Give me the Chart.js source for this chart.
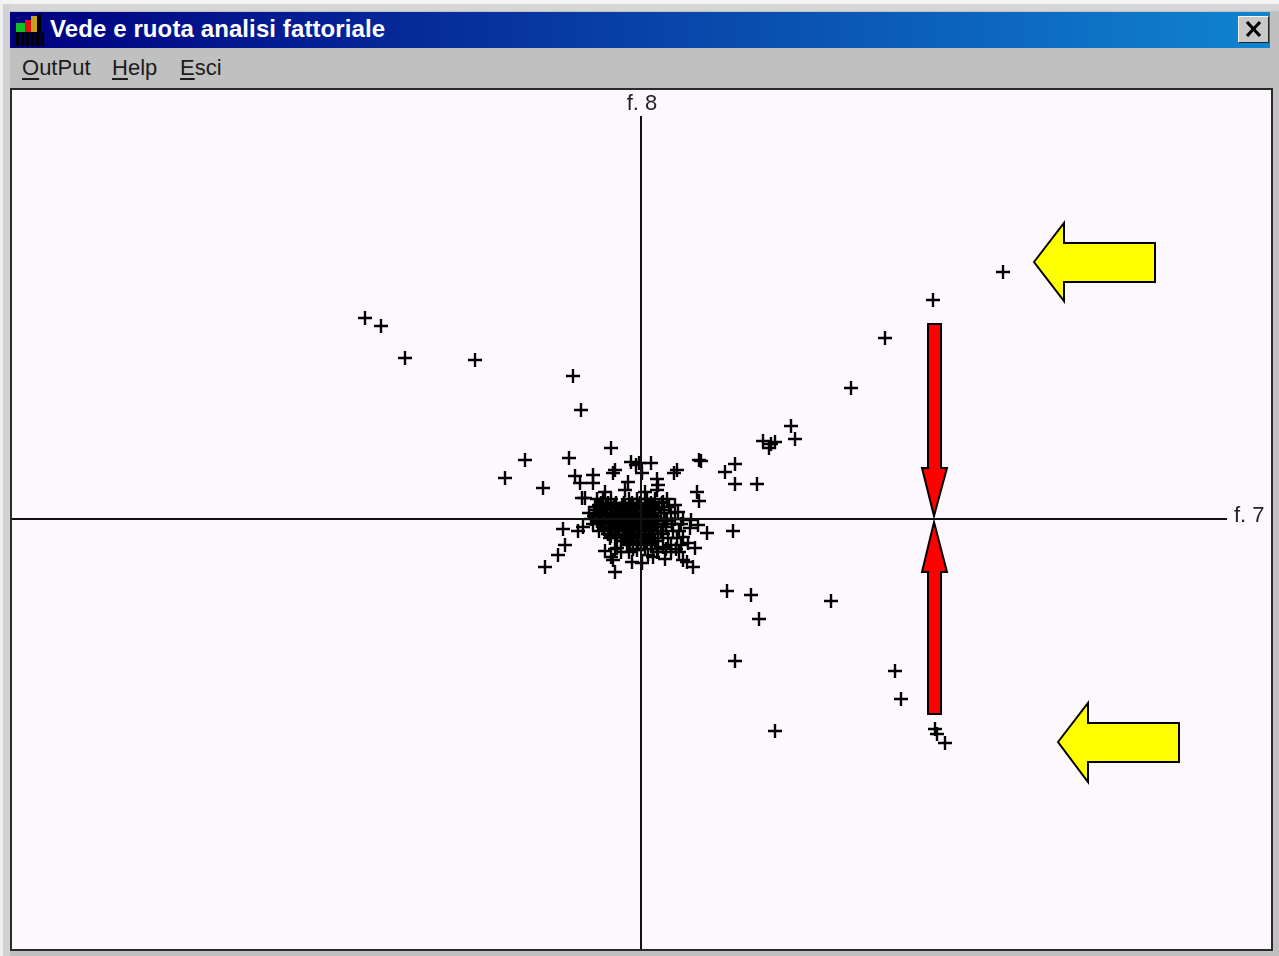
<!DOCTYPE html>
<html lang="it">
<head>
<meta charset="utf-8">
<title>Vede e ruota analisi fattoriale</title>
<script src="https://cdn.jsdelivr.net/npm/chart.js@4"></script>
<style>
html,body{margin:0;padding:0;background:#c0c0c0;width:1279px;height:956px;overflow:hidden;font-family:"Liberation Sans",Arial,sans-serif}
#win{position:absolute;left:0;top:0;width:1279px;height:956px;background:#c0c0c0;filter:blur(.45px)}
#edgeTop{position:absolute;left:0;top:0;width:1279px;height:4px;background:#f4f4f4}
#edgeTop2{position:absolute;left:0;top:4px;width:1279px;height:7px;background:#d6d6d6}
#edgeLeft{position:absolute;left:0;top:0;width:3px;height:956px;background:#f0f0f0}
#edgeLeft2{position:absolute;left:3px;top:4px;width:7px;height:952px;background:#d2d2d2}
#titlebar{position:absolute;left:10px;top:12px;width:1260px;height:36px;background:linear-gradient(90deg,#000080 0%,#1084d0 100%)}
#titletext{position:absolute;left:40px;top:3px;color:#fff;font:bold 24px "Liberation Sans",Arial,sans-serif;white-space:nowrap;letter-spacing:.1px}
#icon{position:absolute;left:5px;top:2px;width:30px;height:32px}
#icon i{position:absolute;display:block}
#close{position:absolute;left:1238px;top:16px;width:31px;height:27px;background:#c8c8c8;border:1px solid;border-color:#f4f4f4 #222 #222 #f4f4f4;box-sizing:border-box;color:#000;text-align:center}
#menu{position:absolute;left:22px;top:52px;font:22px/32px "Liberation Sans",Arial,sans-serif;color:#1c1c1c;white-space:nowrap}
#menu span{position:absolute;top:0}
#menu u{text-underline-offset:3px}
#frame{position:absolute;left:10px;top:88px;width:1259px;height:859px;border:2px solid #2a2a2a;background:#fdf8fe}
#chartBox{position:absolute;left:12px;top:90px;width:1259px;height:859px}
</style>
</head>
<body>
<div id="win">
  <div id="edgeTop"></div><div id="edgeTop2"></div><div id="edgeLeft"></div><div id="edgeLeft2"></div>
  <div id="titlebar">
    <div id="icon">
      <i style="left:1px;top:9px;width:9px;height:9px;background:#10c020"></i>
      <i style="left:10px;top:6px;width:6px;height:12px;background:#e01010"></i>
      <i style="left:16px;top:2px;width:6px;height:16px;background:#c8a020"></i>
      <i style="left:22px;top:0;width:4px;height:18px;background:#000"></i>
      <i style="left:1px;top:18px;width:28px;height:14px;background:repeating-linear-gradient(90deg,#000 0 3px,#000050 3px 5px)"></i>
    </div>
    <div id="titletext">Vede e ruota analisi fattoriale</div>
  </div>
  <div id="close"><svg width="29" height="25" viewBox="0 0 29 25"><path d="M8 5 L21 19 M21 5 L8 19" stroke="#000" stroke-width="3.2" fill="none"/></svg></div>
  <div id="menu">
    <span style="left:0"><u>O</u>utPut</span>
    <span style="left:90px"><u>H</u>elp</span>
    <span style="left:158px"><u>E</u>sci</span>
  </div>
  <div id="frame"></div>
  <div id="chartBox"><canvas id="c" width="1259" height="859"></canvas></div>
</div>
<script>
// Factor scores: far points
const outerF7 = [-2.76,-2.60,-2.36,-1.66,-0.68,-0.60,-0.30,-1.16,-0.72,-1.36,-0.98,
  3.62,2.92,2.44,2.10,1.50,1.54,1.22,1.34,1.30,1.28,0.94,0.84,0.58,0.60,0.94,1.16,0.56,0.58,
  0.92,0.66,0.86,1.10,1.18,1.90,0.94,2.54,2.60,1.34,2.94,2.96,3.04];
const outerF8 = [2.01,1.93,1.61,1.59,1.43,1.09,0.71,0.59,0.61,0.41,0.31,
  2.47,2.19,1.81,1.31,0.93,0.80,0.78,0.77,0.75,0.71,0.55,0.47,0.59,0.58,0.35,0.35,0.27,0.18,
  -0.12,-0.14,-0.72,-0.76,-1.00,-0.82,-1.42,-1.52,-1.80,-2.12,-2.10,-2.15,-2.24];
// Edge of the central cloud
const rimF7 = [-0.66,-0.48,-0.48,-0.61,-0.59,-0.56,-0.26,-0.28,-0.10,-0.05,-0.02,0.10,0.01,0.36,0.33,0.16,0.17,0.16,-0.13,-0.16,-0.36,0.04,0.34,0.37,0.22,
  0.50,0.57,-0.78,-0.63,-0.58,-0.76,-0.83,-0.96,-0.26,0.52,0.42,0.46,0.24,0.01,-0.09,-0.28,-0.36,-0.24,0.54,0.47,0.49,0.42,0.22,0.07,-0.04,-0.14,-0.31];
const rimF8 = [0.43,0.44,0.36,0.36,0.21,0.21,0.49,0.46,0.57,0.54,0.56,0.56,0.46,0.49,0.46,0.40,0.34,0.29,0.37,0.29,0.27,0.27,0.14,0.07,0.17,
  -0.01,-0.06,-0.10,-0.12,-0.08,-0.26,-0.36,-0.48,-0.53,-0.48,-0.41,-0.43,-0.40,-0.44,-0.43,-0.41,-0.32,-0.29,-0.29,-0.24,-0.09,-0.18,-0.28,-0.36,-0.31,-0.26,-0.19];
// Dense core of the cloud
const coreF7 = [-0.44,-0.38,-0.30,-0.12,-0.04,0.06,0.14,0.26,
  -0.46,-0.34,-0.26,-0.16,-0.08,0.00,0.08,0.18,0.28,
  -0.52,-0.42,-0.30,-0.20,-0.12,-0.05,0.03,0.11,0.20,0.30,
  -0.50,-0.40,-0.32,-0.24,-0.15,-0.07,0.02,0.09,0.15,0.24,0.34,0.42,
  -0.48,-0.36,-0.27,-0.18,-0.10,-0.02,0.06,0.13,0.22,0.31,0.40,
  -0.42,-0.30,-0.22,-0.12,-0.04,0.04,0.12,0.20,0.32,0.38,
  -0.16,-0.08,0.01,0.09,0.17,0.27,0.36,
  0.00,0.10,0.30,0.40,
  -0.20,-0.12,0.16,0.30,0.38,
  -0.30,0.12,
  -0.40,-0.33,-0.25,-0.17,-0.09,-0.01,0.10,0.21,
  -0.44,-0.37,-0.29,-0.22,-0.14,-0.06,0.02,0.12,0.23,
  -0.47,-0.39,-0.31,-0.23,-0.16,-0.09,-0.03,0.05,0.14,
  -0.44,-0.36,-0.28,-0.21,-0.13,-0.06,0.01,0.07,0.17,0.26,
  -0.38,-0.32,-0.25,-0.15,-0.07,0.01,0.08,0.16,0.25,
  -0.33,-0.26,-0.18,-0.10,-0.03,0.05,0.13,0.22,
  -0.20,-0.11,-0.03,0.06,0.14,
  -0.26,-0.08,0.04,0.17,0.25,0.35,
  -0.42,-0.35,-0.27,-0.19,-0.11,-0.03,0.04,0.12,
  -0.41,-0.34,-0.24,-0.18,-0.11,-0.04,0.04,0.10,
  -0.43,-0.35,-0.26,-0.19,-0.13,-0.06,0.00,0.07,
  -0.41,-0.33,-0.25,-0.19,-0.12,-0.05,0.03,0.10,
  -0.37,-0.29,-0.23,-0.16,-0.09,-0.02,0.05,0.11,
  -0.30,-0.24,-0.14,-0.07,0.00,0.08,
  -0.12,-0.04,0.03,0.11];
const coreF8 = [0.20,0.20,0.20,0.20,0.20,0.20,0.20,0.20,
  0.12,0.12,0.12,0.12,0.12,0.12,0.12,0.12,0.12,
  0.06,0.06,0.06,0.06,0.06,0.06,0.06,0.06,0.06,0.06,
  0.00,0.00,0.00,0.00,0.00,0.00,0.00,0.00,0.00,0.00,0.00,0.00,
  -0.05,-0.05,-0.05,-0.05,-0.05,-0.05,-0.05,-0.05,-0.05,-0.05,-0.05,
  -0.12,-0.12,-0.12,-0.12,-0.12,-0.12,-0.12,-0.12,-0.12,-0.12,
  -0.19,-0.19,-0.19,-0.19,-0.19,-0.19,-0.19,
  -0.26,-0.26,-0.26,-0.26,
  -0.33,-0.33,-0.33,-0.33,-0.33,
  -0.38,-0.38,
  0.16,0.16,0.16,0.16,0.16,0.16,0.16,0.16,
  0.09,0.09,0.09,0.09,0.09,0.09,0.09,0.09,0.09,
  0.03,0.03,0.03,0.03,0.03,0.03,0.03,0.03,0.03,
  -0.02,-0.02,-0.02,-0.02,-0.02,-0.02,-0.02,-0.02,-0.02,-0.02,
  -0.08,-0.08,-0.08,-0.08,-0.08,-0.08,-0.08,-0.08,-0.08,
  -0.15,-0.15,-0.15,-0.15,-0.15,-0.15,-0.15,-0.15,
  -0.22,-0.22,-0.22,-0.22,-0.22,
  -0.30,-0.30,-0.30,-0.30,-0.30,-0.30,
  0.14,0.14,0.14,0.14,0.14,0.14,0.14,0.14,
  0.10,0.10,0.10,0.10,0.10,0.10,0.10,0.10,
  0.04,0.04,0.04,0.04,0.04,0.04,0.04,0.04,
  -0.03,-0.03,-0.03,-0.03,-0.03,-0.03,-0.03,-0.03,
  -0.10,-0.10,-0.10,-0.10,-0.10,-0.10,-0.10,-0.10,
  -0.17,-0.17,-0.17,-0.17,-0.17,-0.17,
  -0.24,-0.24,-0.24,-0.24];
// Axis extents and names
const xRange = [-6.29, 6.30];
const yRange = [-4.30, 4.29];
const axisF7Ends = [-6.29, 5.86];
const axisF8Ends = [-4.30, 4.03];
const axisNames = ['f. 7', 'f. 8'];
// Annotation arrows, in the same factor units
const yellowTopX = [3.93,4.23,4.23,5.14,5.14,4.23,4.23];
const yellowTopY = [2.57,2.96,2.76,2.76,2.37,2.37,2.18];
const yellowLowX = [4.17,4.47,4.47,5.38,5.38,4.47,4.47];
const yellowLowY = [-2.23,-1.84,-2.04,-2.04,-2.43,-2.43,-2.63];
const redDownX = [2.87,3.00,3.00,3.06,2.93,2.81,2.87];
const redDownY = [1.95,1.95,0.51,0.51,0.03,0.51,0.51];
const redUpX = [2.93,3.06,3.00,3.00,2.87,2.87,2.81];
const redUpY = [-0.03,-0.53,-0.53,-1.95,-1.95,-0.53,-0.53];

const allF7 = outerF7.concat(rimF7, coreF7);
const allF8 = outerF8.concat(rimF8, coreF8);
const points = allF7.map((x, i) => ({x, y: allF8[i]}));

const arrows = [
  {xs: redDownX, ys: redDownY, fill: '#ff0000'},
  {xs: redUpX, ys: redUpY, fill: '#ff0000'},
  {xs: yellowTopX, ys: yellowTopY, fill: '#ffff00'},
  {xs: yellowLowX, ys: yellowLowY, fill: '#ffff00'}
];

const overlay = {
  id: 'overlay',
  afterDatasetsDraw(chart) {
    const {ctx, scales: {x, y}} = chart;
    ctx.save();
    arrows.forEach(a => {
      ctx.beginPath();
      a.xs.forEach((v, i) => {
        const px = x.getPixelForValue(v), py = y.getPixelForValue(a.ys[i]);
        i ? ctx.lineTo(px, py) : ctx.moveTo(px, py);
      });
      ctx.closePath();
      ctx.fillStyle = a.fill;
      ctx.fill();
      ctx.lineWidth = 2;
      ctx.lineJoin = 'miter';
      ctx.strokeStyle = '#000';
      ctx.stroke();
    });
    ctx.fillStyle = '#222';
    ctx.font = '22px "Liberation Sans", Arial, sans-serif';
    ctx.textBaseline = 'middle';
    ctx.textAlign = 'left';
    ctx.fillText(axisNames[0], x.getPixelForValue(axisF7Ends[1]) + 7, y.getPixelForValue(0) - 3);
    ctx.textAlign = 'center';
    ctx.fillText(axisNames[1], x.getPixelForValue(0) + 1, y.getPixelForValue(axisF8Ends[1]) - 12);
    ctx.restore();
  }
};

new Chart(document.getElementById('c'), {
  type: 'scatter',
  data: {
    datasets: [
      {data: [{x: axisF7Ends[0], y: 0}, {x: axisF7Ends[1], y: 0}], showLine: true, borderColor: '#111', borderWidth: 2, pointRadius: 0},
      {data: [{x: 0, y: axisF8Ends[0]}, {x: 0, y: axisF8Ends[1]}], showLine: true, borderColor: '#111', borderWidth: 2, pointRadius: 0},
      {data: points, pointStyle: 'cross', pointRadius: 7, pointBorderColor: '#000', pointBorderWidth: 2.4, showLine: false}
    ]
  },
  options: {
    responsive: false,
    animation: false,
    layout: {padding: 0, autoPadding: false},
    plugins: {legend: {display: false}, tooltip: {enabled: false}, title: {display: false}},
    scales: {
      x: {type: 'linear', display: false, min: xRange[0], max: xRange[1]},
      y: {type: 'linear', display: false, min: yRange[0], max: yRange[1]}
    }
  },
  plugins: [overlay]
});
</script>
</body>
</html>
